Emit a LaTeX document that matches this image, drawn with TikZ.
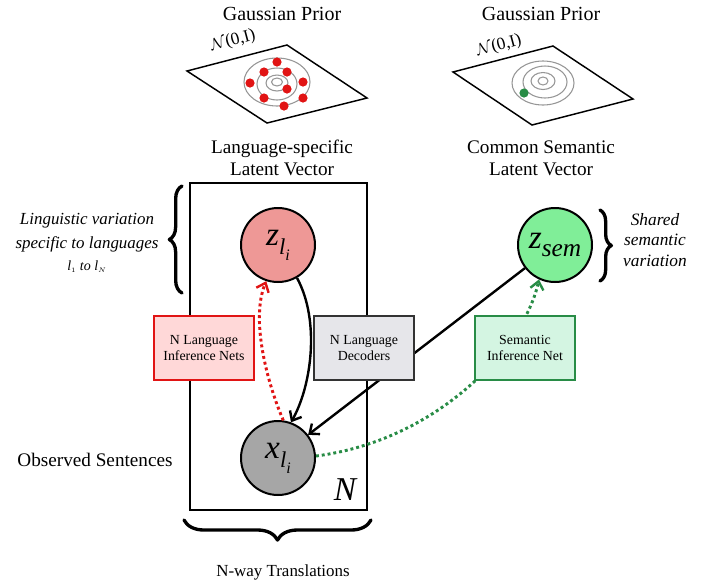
\documentclass[tikz,border=0pt]{standalone}
\usepackage{fontspec}
\setmainfont{Liberation Serif}
\usetikzlibrary{arrows.meta,decorations.pathreplacing}
\definecolor{zlfill}{RGB}{238,152,150}
\definecolor{zsfill}{RGB}{128,238,152}
\definecolor{xfill}{RGB}{166,166,166}
\definecolor{redline}{RGB}{225,20,20}
\definecolor{redbox}{RGB}{255,216,216}
\definecolor{greenline}{RGB}{40,140,70}
\definecolor{greenbox}{RGB}{212,245,226}
\definecolor{greybox}{RGB}{230,230,234}
\definecolor{contourgray}{RGB}{150,150,150}
\begin{document}
\begin{tikzpicture}[x=0.75pt,y=-0.75pt,
  plane/.style={draw=black, line width=1.1pt, line join=miter},
  contour/.style={draw=contourgray, line width=0.8pt},
  var/.style={circle, draw=black, line width=1.5pt, minimum size=55.5pt, inner sep=0pt},
  netbox/.style={rectangle, line width=1.5pt, minimum width=75pt, minimum height=47.5pt, align=center, font=\fontsize{10.4}{12}\selectfont},
  arr/.style={line width=1.8pt, -{Straight Barb[length=6pt,width=10pt,line width=1.8pt]}},
  dotarr/.style={line width=2.2pt, dash pattern=on 2.2pt off 2.2pt, -{Straight Barb[length=6pt,width=10pt,line width=1.8pt]}},
  bigtext/.style={font=\fontsize{14.4}{16.5}\selectfont, align=center},
  sidetext/.style={font=\fontsize{12.7}{18}\selectfont\itshape, align=center},
  bracestyle/.style={decorate, line width=2.5pt, line cap=round, line join=round}
]
\useasboundingbox (0,0) rectangle (707,583);

% ---------- titles
\node[font=\fontsize{15}{17}\selectfont] (gp1) at (282,14) {Gaussian Prior};
\node[font=\fontsize{15}{17}\selectfont] (gp2) at (541,14) {Gaussian Prior};

% ---------- left plane
\draw[plane] (187,71) -- (287,45) -- (367,98) -- (267,123) -- cycle;
\draw[contour] (277,82) ellipse [x radius=33, y radius=24];
\draw[contour] (277,84) ellipse [x radius=20, y radius=16];
\draw[contour] (277,83) ellipse [x radius=11, y radius=8];
\draw[contour] (277,82) ellipse [x radius=5.5, y radius=4];
\foreach \p in {(277,62),(264,72),(287,72),(250,83),(303,82),(287,89),(264,98),(303,98),(284,106)}
  \fill[redline] \p circle (4.6);
\node[rotate=15, font=\fontsize{13}{13}\selectfont] (n1) at (233,41) {$\mathcal{N}$(0,I)};

% ---------- right plane
\draw[plane] (453,72) -- (553,46) -- (633,99) -- (532,125) -- cycle;
\draw[contour] (543,83) ellipse [x radius=31, y radius=22];
\draw[contour] (545,82) ellipse [x radius=22, y radius=16];
\draw[contour] (543,81) ellipse [x radius=12, y radius=8.5];
\draw[contour] (543,81) ellipse [x radius=5, y radius=4];
\fill[greenline] (524,93) circle (4.6);
\node[rotate=15, font=\fontsize{13}{13}\selectfont] (n2) at (499,46) {$\mathcal{N}$(0,I)};

% ---------- subtitles
\node[bigtext] (lsv) at (282,158) {Language-specific\\Latent Vector};
\node[bigtext] (csv) at (541,158) {Common Semantic\\Latent Vector};

% ---------- plate
\draw[line width=0.8pt] (190,183) rectangle (367,510);
\node[font=\fontsize{25}{25}\selectfont\itshape] (nlab) at (345,490) {N};

% ---------- variables
\node[var, fill=zlfill] (zl) at (278,245) {\fontsize{25}{25}\selectfont\itshape z\raisebox{-0.28em}{\fontsize{17}{17}\selectfont l\raisebox{-0.25em}{\fontsize{12}{12}\selectfont i}}};
\node[var, fill=zsfill] (zs) at (555,245) {\fontsize{25}{25}\selectfont\itshape z\raisebox{-0.22em}{\fontsize{19}{19}\selectfont sem}};
\node[var, fill=xfill] (xl) at (278,458) {\fontsize{25}{25}\selectfont\itshape x\raisebox{-0.28em}{\fontsize{17}{17}\selectfont l\raisebox{-0.25em}{\fontsize{12}{12}\selectfont i}}};

% ---------- connectors
\draw[arr] (zl.-60) .. controls (320,320) and (312,385) .. (xl.70);
\draw[arr] (zs) -- (xl);
\draw[dotarr, draw=redline] (xl.82) .. controls (268,385) and (250,320) .. (zl.-108);
\draw[dotarr, draw=greenline] (xl.3) .. controls (440,440) and (525,345) .. (zs.-115);

% ---------- inference / decoder boxes
\node[netbox, draw=redline, fill=redbox] (inf) at (204,348) {N Language\\Inference Nets};
\node[netbox, draw=black!80, fill=greybox] (dec) at (364,348) {N Language\\Decoders};
\node[netbox, draw=greenline, fill=greenbox] (sem) at (525,348) {Semantic\\Inference Net};

% ---------- braces
\draw[bracestyle, decoration={brace, amplitude=9.5pt, aspect=0.5}] (182,293) -- (182,186);
\draw[bracestyle, decoration={brace, amplitude=8.5pt}] (600,210) -- (600,281);
\draw[bracestyle, decoration={brace, amplitude=15pt}] (371,520) -- (184,520);

% ---------- side texts
\node[sidetext] (ling) at (87,233) {Linguistic variation\\specific to languages};
\node[font=\fontsize{10.5}{11}\selectfont\itshape] (lrange) at (87,267) {$\mathit{l}_{\scriptscriptstyle 1}$ to $\mathit{l}_{\scriptscriptstyle N}$};
\node[font=\fontsize{13}{15.4}\selectfont\itshape, align=center] (shared) at (655,240) {Shared\\semantic\\variation};
\node[bigtext] (obs) at (95,460) {Observed Sentences};
\node[font=\fontsize{12.7}{14}\selectfont] (nway) at (283,572) {N-way Translations};
\end{tikzpicture}
\end{document}
